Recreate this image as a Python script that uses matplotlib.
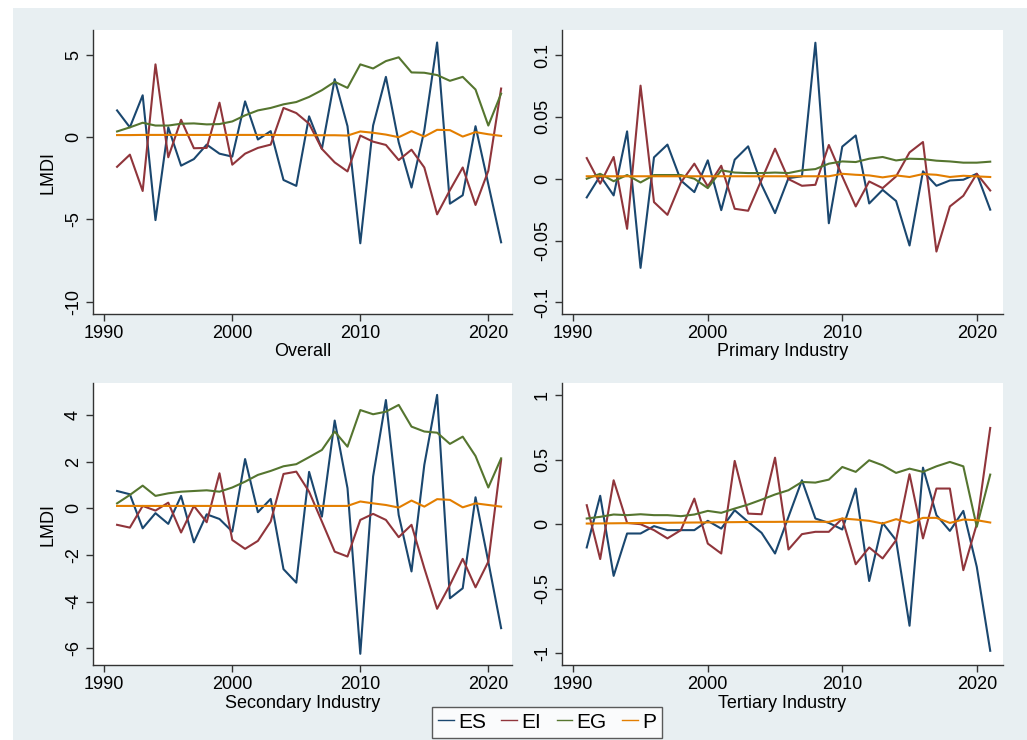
import matplotlib
matplotlib.use("Agg")
import matplotlib.pyplot as plt
from matplotlib.patches import Rectangle

years = list(range(1991, 2022))

# ---- Overall ----
overall_es = [1.63, 0.6, 2.55, -5.04, 0.6, -1.73, -1.33, -0.45, -1.0, -1.18,
              2.18, -0.14, 0.37, -2.6, -2.96, 1.27, -0.71, 3.53, 0.67, -6.45,
              0.71, 3.67, -0.31, -3.06, 0.41, 5.76, -4.04, -3.53, 0.67, -2.86, -6.39]
overall_ei = [-1.8, -1.06, -3.27, 4.43, -1.22, 1.06, -0.67, -0.65, 2.1, -1.67,
              -1.0, -0.65, -0.45, 1.78, 1.47, 0.82, -0.71, -1.53, -2.08, 0.1,
              -0.27, -0.47, -1.39, -0.76, -1.84, -4.69, -3.22, -1.84, -4.12, -2.04, 2.96]
overall_eg = [0.35, 0.6, 0.88, 0.71, 0.71, 0.82, 0.84, 0.78, 0.8, 0.96,
              1.33, 1.63, 1.78, 2.0, 2.14, 2.45, 2.86, 3.37, 3.0, 4.43,
              4.18, 4.63, 4.86, 3.94, 3.92, 3.78, 3.43, 3.67, 2.9, 0.71, 2.65]
overall_p = [0.13, 0.13, 0.14, 0.14, 0.14, 0.14, 0.14, 0.14, 0.14, 0.14,
             0.14, 0.14, 0.14, 0.13, 0.13, 0.12, 0.12, 0.12, 0.1, 0.35,
             0.27, 0.16, 0.0, 0.37, 0.04, 0.45, 0.43, 0.04, 0.31, 0.18, 0.08]

# ---- Primary Industry ----
primary_es = [-0.0151, 0.0024, -0.0135, 0.0383, -0.0721, 0.0173, 0.0276, -0.0014, -0.0108, 0.0149,
              -0.0254, 0.0154, 0.0262, -0.0049, -0.0278, 0.0005, 0.002, 0.110, -0.036, 0.026,
              0.035, -0.020, -0.009, -0.018, -0.054, 0.006, -0.0057, -0.0014, -0.0008, 0.004, -0.025]
primary_ei = [0.0167, -0.004, 0.0176, -0.0405, 0.0753, -0.0189, -0.0292, -0.003, 0.0122, -0.0062,
              0.0105, -0.0243, -0.0259, -0.0008, 0.0243, -0.0003, -0.0057, -0.0049, 0.0273, 0.0019,
              -0.0224, -0.0022, -0.0076, 0.0019, 0.0213, 0.0297, -0.0589, -0.0224, -0.0138, 0.004, -0.0095]
primary_eg = [0.0, 0.004, -0.002, 0.003, -0.003, 0.003, 0.003, 0.003, 0.0, -0.0076,
              0.0068, 0.005, 0.0046, 0.0046, 0.005, 0.0046, 0.0068, 0.0078, 0.0122, 0.014,
              0.0135, 0.0162, 0.0176, 0.0148, 0.0162, 0.0159, 0.0146, 0.014, 0.013, 0.013, 0.0138]
primary_p = [0.002, 0.002, 0.002, 0.002, 0.002, 0.002, 0.002, 0.002, 0.002, 0.002,
             0.002, 0.002, 0.002, 0.002, 0.002, 0.002, 0.002, 0.002, 0.002, 0.004,
             0.0032, 0.0027, 0.0011, 0.0027, 0.0014, 0.0038, 0.0032, 0.0014, 0.0024, 0.0019, 0.0014]

# ---- Secondary Industry ----
secondary_es = [0.74, 0.6, -0.86, -0.21, -0.67, 0.53, -1.46, -0.26, -0.46, -1.0,
                2.11, -0.17, 0.4, -2.61, -3.19, 1.56, -0.36, 3.76, 0.86, -6.24,
                1.36, 4.64, -0.29, -2.71, 1.86, 4.86, -3.86, -3.43, 0.47, -2.29, -5.14]
secondary_ei = [-0.71, -0.83, 0.1, -0.1, 0.24, -1.04, 0.1, -0.6, 1.5, -1.36,
                -1.74, -1.4, -0.57, 1.47, 1.57, 0.71, -0.57, -1.86, -2.07, -0.5,
                -0.24, -0.5, -1.24, -0.71, -2.57, -4.31, -3.29, -2.17, -3.39, -2.29, 2.07]
secondary_eg = [0.21, 0.57, 0.97, 0.53, 0.64, 0.71, 0.74, 0.77, 0.71, 0.89,
                1.14, 1.43, 1.6, 1.8, 1.89, 2.19, 2.5, 3.29, 2.64, 4.21,
                4.03, 4.14, 4.43, 3.5, 3.29, 3.24, 2.76, 3.07, 2.24, 0.89, 2.14]
secondary_p = [0.1, 0.1, 0.1, 0.1, 0.1, 0.1, 0.1, 0.1, 0.1, 0.1,
               0.1, 0.1, 0.1, 0.1, 0.1, 0.1, 0.1, 0.1, 0.1, 0.29,
               0.21, 0.14, 0.03, 0.33, 0.07, 0.39, 0.36, 0.04, 0.21, 0.14, 0.07]

# ---- Tertiary Industry ----
tertiary_es = [-0.18, 0.22, -0.40, -0.072, -0.072, -0.015, -0.046, -0.046, -0.046, 0.026,
               -0.034, 0.108, 0.018, -0.067, -0.227, 0.057, 0.34, 0.044, 0.01, -0.041,
               0.276, -0.44, 0.01, -0.124, -0.786, 0.438, 0.07, -0.052, 0.103, -0.33, -0.98]
tertiary_ei = [0.147, -0.27, 0.34, 0.01, 0.0, -0.046, -0.11, -0.046, 0.198, -0.15,
               -0.227, 0.49, 0.082, 0.077, 0.515, -0.196, -0.077, -0.059, -0.059, 0.044,
               -0.31, -0.18, -0.265, -0.124, 0.387, -0.11, 0.276, 0.276, -0.356, 0.0, 0.745]
tertiary_eg = [0.044, 0.057, 0.075, 0.07, 0.077, 0.07, 0.07, 0.062, 0.075, 0.103,
               0.088, 0.121, 0.152, 0.19, 0.23, 0.263, 0.327, 0.322, 0.345, 0.443,
               0.405, 0.495, 0.456, 0.397, 0.43, 0.405, 0.448, 0.482, 0.448, -0.02, 0.384]
tertiary_p = [0.005, 0.006, 0.007, 0.008, 0.009, 0.01, 0.011, 0.012, 0.013, 0.014,
              0.015, 0.016, 0.017, 0.018, 0.018, 0.019, 0.019, 0.019, 0.018, 0.044,
              0.036, 0.026, 0.005, 0.039, 0.01, 0.049, 0.049, 0.01, 0.036, 0.031, 0.013]

series_names = ["ES", "EI", "EG", "P"]
colors = ["#1a476f", "#90353b", "#55752f", "#e37e00"]

panels = [
    dict(title="Overall", data=[overall_es, overall_ei, overall_eg, overall_p],
         ticks=[5, 0, -5, -10], labels=["5", "0", "-5", "-10"], ylim=(-10.75, 6.52),
         rect=(93, 30, 512, 314), ylabel=True, xlim=(1989.12, 2021.85)),
    dict(title="Primary Industry", data=[primary_es, primary_ei, primary_eg, primary_p],
         ticks=[0.1, 0.05, 0, -0.05, -0.1], labels=["0.1", "0.05", "0", "-0.05", "-0.1"],
         ylim=(-0.1094, 0.1203), rect=(562, 30, 1003, 314), ylabel=False, xlim=(1989.16, 2021.95)),
    dict(title="Secondary Industry", data=[secondary_es, secondary_ei, secondary_eg, secondary_p],
         ticks=[4, 2, 0, -2, -4, -6], labels=["4", "2", "0", "-2", "-4", "-6"],
         ylim=(-6.72, 5.37), rect=(93, 383, 512, 665), ylabel=True, xlim=(1989.12, 2021.85)),
    dict(title="Tertiary Industry", data=[tertiary_es, tertiary_ei, tertiary_eg, tertiary_p],
         ticks=[1, 0.5, 0, -0.5, -1], labels=["1", "0.5", "0", "-0.5", "-1"],
         ylim=(-1.09, 1.093), rect=(562, 383, 1003, 665), ylabel=False, xlim=(1989.16, 2021.95)),
]

W, H = 1027, 740
plt.rcParams['font.family'] = ['Liberation Sans', 'DejaVu Sans']
fig = plt.figure(figsize=(W / 100, H / 100), dpi=100, facecolor="white")
bg = Rectangle((13 / W, 0), 1 - 13 / W, 1 - 7.5 / H, transform=fig.transFigure,
               facecolor="#e8eff2", edgecolor="none", zorder=-10)
fig.patches.append(bg)

axis_color = "#333333"
handles = None
for p in panels:
    x0, y0, x1, y1 = p["rect"]
    ax = fig.add_axes([x0 / W, 1 - y1 / H, (x1 - x0) / W, (y1 - y0) / H])
    ax.set_facecolor("white")
    hs = []
    for vals, name, c in zip(p["data"], series_names, colors):
        h, = ax.plot(years, vals, color=c, lw=1.5, label=name)
        hs.append(h)
    handles = hs
    ax.set_xlim(*p["xlim"])
    ax.set_ylim(*p["ylim"])
    ax.set_xticks([1990, 2000, 2010, 2020])
    ax.set_yticks(p["ticks"])
    ax.set_yticklabels(p["labels"], rotation=90, va="center")
    ax.tick_params(axis="both", labelsize=13, length=5, width=1, color=axis_color,
                   labelcolor="black", pad=3)
    for s in ["top", "right"]:
        ax.spines[s].set_visible(False)
    for s in ["left", "bottom"]:
        ax.spines[s].set_color(axis_color)
        ax.spines[s].set_linewidth(1)
    ax.set_xlabel(p["title"], fontsize=13, labelpad=1)
    if p["ylabel"]:
        ax.set_ylabel("LMDI", fontsize=13, labelpad=6)

leg = fig.legend(handles, series_names, loc="lower center",
                 bbox_to_anchor=(547 / W, 2 / H), ncol=4, fontsize=15,
                 frameon=True, fancybox=False, handlelength=0.75, handletextpad=0.2,
                 columnspacing=0.75, borderpad=0.3, borderaxespad=0)
leg.get_frame().set_edgecolor("#333333")
leg.get_frame().set_linewidth(1)
for lh in leg.get_lines():
    lh.set_linewidth(1)

fig.savefig("out.png", dpi=100, facecolor=fig.get_facecolor())
